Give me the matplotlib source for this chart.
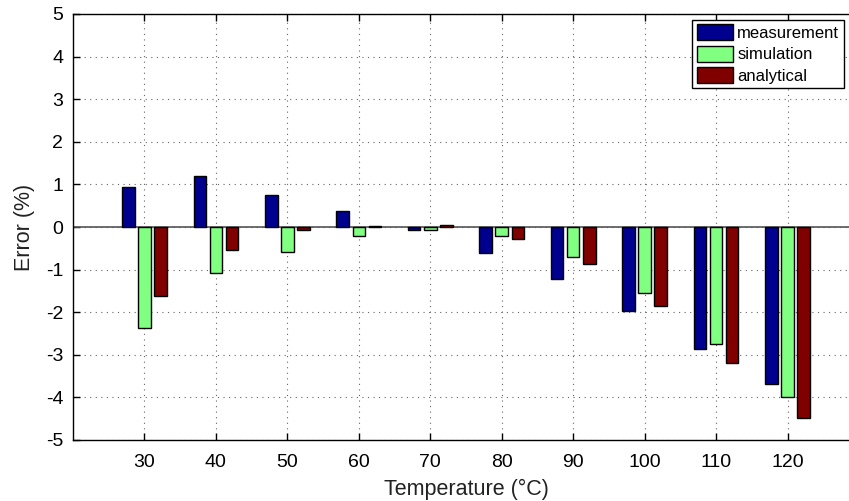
import matplotlib
matplotlib.use('Agg')
import matplotlib.pyplot as plt
import numpy as np

plt.rcParams['font.family'] = ['Liberation Sans', 'DejaVu Sans']
plt.rcParams['axes.unicode_minus'] = False

# --- data ---
temps = [30, 40, 50, 60, 70, 80, 90, 100, 110, 120]
measurement = [0.95, 1.19, 0.75, 0.38, -0.06, -0.60, -1.23, -1.98, -2.86, -3.69]
simulation = [-2.36, -1.09, -0.58, -0.21, -0.06, -0.22, -0.71, -1.56, -2.75, -3.99]
analytical = [-1.63, -0.55, -0.08, 0.03, 0.04, -0.27, -0.86, -1.86, -3.19, -4.49]

series = [('measurement', measurement, '#00008f'),
          ('simulation', simulation, '#80ff80'),
          ('analytical', analytical, '#800000')]

fig = plt.figure(figsize=(8.49, 5.01), dpi=100)
# axes box runs past the right edge like the cropped original
ax = fig.add_axes([73 / 849, 61 / 501, (859 - 73) / 849, 426 / 501])

x = np.array(temps, dtype=float)
offset = 2.25
width = 1.75
for i, (name, vals, col) in enumerate(series):
    ax.bar(x + (i - 1) * offset, vals, width, color=col, edgecolor='black',
           linewidth=1.0, label=name, zorder=3)

ax.axhline(0, color='#555555', linewidth=1.2, zorder=2)

ax.set_xlim(20, 130)
ax.set_ylim(-5, 5)
ax.set_xticks(temps)
ax.set_yticks(np.arange(-5, 6, 1))
ax.tick_params(direction='in', length=5, width=1, top=True, right=True,
               labelsize=14, pad=7)
ax.tick_params(axis='x', pad=10)
ax.grid(True, linestyle=(0, (1, 4)), color='#666666', linewidth=0.8, zorder=0)
for sp in ax.spines.values():
    sp.set_linewidth(1.0)

ax.set_xlabel('Temperature (°C)', fontsize=15.5, labelpad=6, color='#222222')
ax.set_ylabel('Error (%)', fontsize=15.5, labelpad=8, color='#222222')

leg = ax.legend(loc='upper left', bbox_to_anchor=(0.788, 0.986), fontsize=12,
                fancybox=False, framealpha=1, edgecolor='black',
                handlelength=2.2, handleheight=1.1, handletextpad=0.25,
                labelspacing=0.3, borderpad=0.25, borderaxespad=0)
leg.get_frame().set_linewidth(1.0)

fig.savefig('out.png', dpi=100)
